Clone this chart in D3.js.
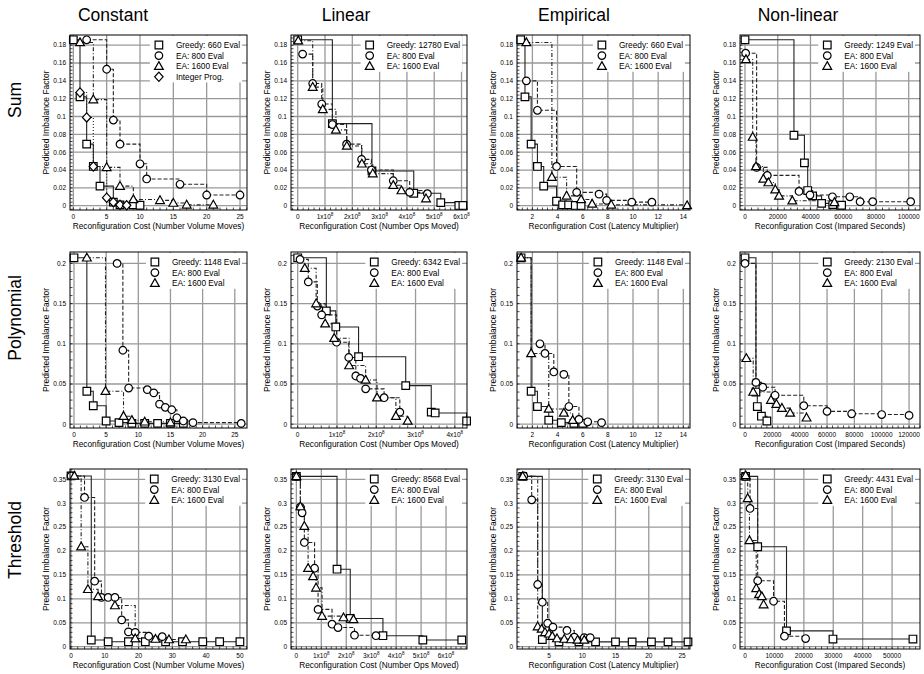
<!DOCTYPE html>
<html>
<head>
<meta charset="utf-8">
<script src="https://cdn.jsdelivr.net/npm/d3@7"></script>
<style>
  body { margin: 0; background: #fff; }
  svg { display: block; font-family: "Liberation Sans", Arial, sans-serif; }
</style>
</head>
<body>
<svg id="chart" width="924" height="674"></svg>
<script>
// ---- Labels ----
const colTitles = ["Constant", "Linear", "Empirical", "Non-linear"];
const rowTitles = ["Sum", "Polynomial", "Threshold"];
const xTitles = [
  "Reconfiguration Cost (Number Volume Moves)",
  "Reconfiguration Cost (Number Ops Moved)",
  "Reconfiguration Cost (Latency Multiplier)",
  "Reconfiguration Cost (Impared Seconds)"
];
const yTitle = "Predicted Imbalance Factor";
const greedyEvals = [[660, 12780, 660, 1249], [1148, 6342, 1148, 2130], [3130, 8568, 3130, 4431]];

// ---- Ticks ----
const yTicksByRow = [
  [0, 0.02, 0.04, 0.06, 0.08, 0.1, 0.12, 0.14, 0.16, 0.18],
  [0, 0.05, 0.1, 0.15, 0.2],
  [0, 0.05, 0.1, 0.15, 0.2, 0.25, 0.3, 0.35]
];
const xTicks = [
  [[0, 5, 10, 15, 20, 25], [0, 1e8, 2e8, 3e8, 4e8, 5e8, 6e8], [2, 4, 6, 8, 10, 12, 14], [0, 20000, 40000, 60000, 80000, 100000]],
  [[0, 5, 10, 15, 20, 25], [0, 1e8, 2e8, 3e8, 4e8], [2, 4, 6, 8, 10, 12, 14], [0, 20000, 40000, 60000, 80000, 100000, 120000]],
  [[0, 10, 20, 30, 40, 50], [0, 1e8, 2e8, 3e8, 4e8, 5e8, 6e8], [5, 10, 15, 20, 25], [0, 10000, 20000, 30000, 40000, 50000]]
];

// ---- Data: Sum ----
const constSumGreedy = [[0,0.186],[1,0.122],[2,0.069],[3,0.044],[4,0.022],[6,0.004],[7,0.001],[9,0.001],[10,0.0005]];
const constSumEA800 = [[2,0.186],[5,0.153],[6,0.096],[7,0.069],[10,0.047],[11,0.030],[16,0.024],[20,0.012],[25,0.012]];
const constSumEA1600 = [[1,0.183],[3,0.119],[5,0.043],[7,0.022],[9,0.007],[13,0.006],[15,0.003],[17,0.001],[21,0.001]];
const constSumIP = [[1,0.127],[2,0.099],[3,0.044],[5,0.009],[6,0.004],[7,0.001],[8,0.0005]];

const linSumGreedy = [[0,0.186],[1.27e8,0.092],[2.72e8,0.039],[4.25e8,0.014],[5.24e8,0.0035],[5.9e8,0.0003],[6.05e8,0.0003]];
const linSumEA800 = [[0.18e8,0.170],[0.55e8,0.137],[0.88e8,0.114],[1.27e8,0.091],[1.79e8,0.069],[2.34e8,0.052],[2.7e8,0.040],[3.5e8,0.028],[4.1e8,0.015],[4.75e8,0.0135]];
const linSumEA1600 = [[0.02e8,0.185],[0.55e8,0.133],[0.92e8,0.108],[1.4e8,0.085],[1.8e8,0.067],[2.35e8,0.047],[2.75e8,0.036],[3.5e8,0.023],[3.8e8,0.017],[4.7e8,0.008]];

const empSumGreedy = [[1.07,0.186],[1.41,0.122],[1.9,0.069],[2.4,0.044],[2.9,0.022],[3.92,0.005],[4.4,0.001],[4.88,0.001],[5.41,0.0003],[5.87,0.0003]];
const empSumEA800 = [[1.52,0.140],[2.4,0.107],[3.92,0.044],[5.52,0.015],[7.3,0.013],[7.9,0.006],[9.9,0.004],[11.5,0.004]];
const empSumEA1600 = [[1.52,0.183],[3.55,0.032],[4.72,0.011],[5.87,0.007],[6.75,0.002],[8.27,0.001],[14.3,0.0003]];

const nlSumGreedy = [[0,0.186],[29900,0.079],[36300,0.048],[38300,0.017],[41300,0.011],[46800,0.0026],[53600,0.0012],[59000,0.0005]];
const nlSumEA800 = [[400,0.171],[7100,0.043],[13600,0.034],[33000,0.016],[39700,0.012],[53400,0.010],[64000,0.010],[70300,0.0045],[78000,0.0045],[101200,0.0045]];
const nlSumEA1600 = [[600,0.164],[4700,0.077],[6700,0.044],[11200,0.030],[14300,0.026],[18500,0.018],[20800,0.011],[28900,0.0056],[54600,0.0037]];

// ---- Data: Polynomial ----
const constPolyGreedy = [[0,0.207],[2,0.041],[3,0.023],[5,0.004],[7,0.002],[9,0.001],[11,0.001],[13,0.001],[15,0.001],[17,0.001]];
const constPolyEA800 = [[6.7,0.2],[7.6,0.092],[8.5,0.045],[11.4,0.043],[12.4,0.039],[13.3,0.025],[14.2,0.021],[15.2,0.018],[16,0.008],[17,0.004],[18.5,0.002],[26,0.001]];
const constPolyEA1600 = [[2,0.207],[4.9,0.041],[7.7,0.01],[9,0.005],[11,0.003],[15,0.002]];

const linPolyGreedy = [[0,0.207],[0.73e8,0.141],[0.97e8,0.121],[1.55e8,0.084],[2.75e8,0.048],[3.4e8,0.015],[3.5e8,0.014],[4.3e8,0.004]];
const linPolyEA800 = [[0.06e8,0.205],[0.27e8,0.177],[0.5e8,0.147],[0.61e8,0.136],[0.99e8,0.102],[1.3e8,0.083],[1.48e8,0.060],[1.6e8,0.057],[1.73e8,0.044],[2.2e8,0.033],[2.6e8,0.015]];
const linPolyEA1600 = [[0.18e8,0.194],[0.47e8,0.150],[0.7e8,0.125],[0.93e8,0.107],[1.31e8,0.073],[1.73e8,0.055],[2.02e8,0.033],[2.5e8,0.01],[2.8e8,0.004]];

const empPolyGreedy = [[1.1,0.207],[1.9,0.041],[2.4,0.022],[3.3,0.005],[4.3,0.002],[5.3,0.001],[6.0,0.001]];
const empPolyEA800 = [[2.6,0.1],[3.0,0.088],[3.7,0.065],[4.5,0.062],[4.9,0.022],[5.7,0.006],[6.4,0.003],[7.5,0.002]];
const empPolyEA1600 = [[1.1,0.207],[1.9,0.088],[3.3,0.019],[4.5,0.014],[5.2,0.005]];

const nlPolyGreedy = [[0,0.207],[8000,0.04],[9000,0.022],[12000,0.01],[16000,0.004]];
const nlPolyEA800 = [[0,0.2],[8000,0.052],[13000,0.046],[22000,0.036],[43000,0.023],[60000,0.016],[78000,0.013],[100000,0.012],[120000,0.011]];
const nlPolyEA1600 = [[1000,0.082],[6000,0.04],[19000,0.03],[23000,0.025],[27000,0.02],[33000,0.014],[45000,0.008]];

// ---- Data: Threshold ----
const constThrGreedy = [[0,0.357],[6,0.014],[11,0.0105],[17,0.0105],[22,0.0105],[28,0.0105],[33,0.0105],[39,0.0105],[44,0.0105],[50,0.0105]];
const constThrEA800 = [[0,0.357],[4,0.312],[7,0.137],[9,0.103],[11,0.103],[13,0.103],[15,0.056],[17,0.031],[19,0.030],[23,0.022],[27,0.021]];
const constThrEA1600 = [[1,0.357],[3,0.209],[5,0.12],[8,0.105],[13,0.086],[19,0.017],[25,0.016],[29,0.015],[34,0.015]];

const linThrGreedy = [[0,0.356],[1.63e8,0.162],[2.16e8,0.059],[3.47e8,0.023],[5.07e8,0.014],[6.63e8,0.014]];
const linThrEA800 = [[0,0.356],[0.16e8,0.292],[0.23e8,0.280],[0.32e8,0.218],[0.73e8,0.164],[0.87e8,0.078],[1.43e8,0.047],[1.67e8,0.040],[2.33e8,0.024],[3.19e8,0.023]];
const linThrEA1600 = [[0,0.356],[0.16e8,0.293],[0.32e8,0.252],[0.47e8,0.164],[0.67e8,0.147],[0.79e8,0.123],[1.03e8,0.064],[1.89e8,0.061],[2.29e8,0.057]];

const empThrGreedy = [[1.05,0.356],[4.0,0.015],[6.5,0.010],[9.5,0.010],[12,0.010],[15,0.010],[17.5,0.010],[20.4,0.010],[22.9,0.010],[25.9,0.010]];
const empThrEA800 = [[1.2,0.357],[2.4,0.307],[3.3,0.130],[4.0,0.093],[4.8,0.049],[5.6,0.041],[7.7,0.034],[8.8,0.020],[10.3,0.019],[11.2,0.019]];
const empThrEA1600 = [[1.05,0.356],[3.3,0.042],[3.9,0.037],[4.4,0.030],[5.0,0.027],[5.5,0.022],[6.2,0.017],[7.3,0.016],[8.3,0.015],[9.3,0.014],[10.3,0.014]];

const nlThrGreedy = [[200,0.356],[4300,0.209],[14100,0.033],[29900,0.016],[57100,0.016]];
const nlThrEA800 = [[0,0.356],[1700,0.289],[4300,0.138],[9700,0.095],[13400,0.022],[20600,0.017]];
const nlThrEA1600 = [[200,0.358],[900,0.31],[1500,0.222],[3800,0.122],[4800,0.11],[5700,0.105],[6300,0.088]];

const panelData = [
  [[constSumGreedy, constSumEA800, constSumEA1600, constSumIP], [linSumGreedy, linSumEA800, linSumEA1600],
   [empSumGreedy, empSumEA800, empSumEA1600], [nlSumGreedy, nlSumEA800, nlSumEA1600]],
  [[constPolyGreedy, constPolyEA800, constPolyEA1600], [linPolyGreedy, linPolyEA800, linPolyEA1600],
   [empPolyGreedy, empPolyEA800, empPolyEA1600], [nlPolyGreedy, nlPolyEA800, nlPolyEA1600]],
  [[constThrGreedy, constThrEA800, constThrEA1600], [linThrGreedy, linThrEA800, linThrEA1600],
   [empThrGreedy, empThrEA800, empThrEA1600], [nlThrGreedy, nlThrEA800, nlThrEA1600]]
];

// ---- Layout (frames in px, axis domains) ----
const frameX = [[70, 247], [291, 467], [517, 690], [740, 920]];
const frameY = [[35, 210], [252, 428], [469, 649]];
const yDomains = [[-0.0048, 0.1914], [-0.0047, 0.2142], [-0.0048, 0.3715]];
const xDomains = [
  [[-0.5, 26.05], [-0.245e8, 6.2e8], [0.776, 14.53], [-3054, 106900]],
  [[-0.62, 26.9], [-0.17e8, 4.31e8], [0.776, 14.53], [-3660, 128000]],
  [[-0.3, 52.1], [-0.215e8, 6.84e8], [0.19, 26.2], [-1717, 59500]]
];
const titleX = [113, 346, 574, 798];
const rowTitleY = [100, 318, 540];

// open marker shapes (gnuplot-like)
const markers = [
  "M-3.8,-3.8H3.8V3.8H-3.8Z",
  "M3.8,0A3.8,3.8 0 1,1 -3.8,0A3.8,3.8 0 1,1 3.8,0Z",
  "M0,-4.6L4.4,3.2L-4.4,3.2Z",
  "M0,-4.6L4.2,0L0,4.6L-4.2,0Z"
];
const dashes = [null, "4,2", "4,2,1,2", "1,2"];
const lineColor = "#222";
const gridColor = "#9a9a9a";

const svg = d3.select("#chart");

svg.selectAll("text.col-title").data(colTitles).join("text")
  .attr("class", "col-title")
  .attr("x", (d, i) => titleX[i]).attr("y", 21)
  .attr("text-anchor", "middle")
  .style("font-size", "17.5px")
  .text(d => d);

svg.selectAll("text.row-title").data(rowTitles).join("text")
  .attr("class", "row-title")
  .attr("transform", (d, i) => `translate(21,${rowTitleY[i]}) rotate(-90)`)
  .attr("text-anchor", "middle")
  .style("font-size", "17.5px")
  .text(d => d);

function fmtY(v) { return String(+v.toFixed(3)); }

function xTickText(sel, v, col) {
  if (col === 1 && v !== 0) {
    sel.text(`${v / 1e8}x10`);
    sel.append("tspan").attr("dy", -3).style("font-size", "4.5px").text("8");
  } else {
    sel.text(String(v));
  }
}

for (let r = 0; r < 3; r++) {
  for (let c = 0; c < 4; c++) {
    const [fx0, fx1] = frameX[c];
    const [fy0, fy1] = frameY[r];
    const x = d3.scaleLinear().domain(xDomains[r][c]).range([fx0, fx1]);
    const y = d3.scaleLinear().domain(yDomains[r]).range([fy1, fy0]);
    const g = svg.append("g");
    const xt = xTicks[r][c];
    const yt = yTicksByRow[r];

    // grid
    g.selectAll("line.gx").data(xt).join("line")
      .attr("x1", d => x(d)).attr("x2", d => x(d))
      .attr("y1", fy0).attr("y2", fy1)
      .attr("stroke", gridColor).attr("stroke-width", 1.3);
    g.selectAll("line.gy").data(yt).join("line")
      .attr("x1", fx0).attr("x2", fx1)
      .attr("y1", d => y(d)).attr("y2", d => y(d))
      .attr("stroke", gridColor).attr("stroke-width", 1.3);

    // minor ticks
    const xStep = xt[1] - xt[0], yStep = yt[1] - yt[0];
    const xMinor = d3.range(xt[0] - xStep, xt[xt.length - 1] + xStep, xStep / 5)
      .filter(v => v >= xDomains[r][c][0] && v <= xDomains[r][c][1]);
    const yMinor = d3.range(yt[0] - yStep, yt[yt.length - 1] + yStep, yStep / 5)
      .filter(v => v >= yDomains[r][0] && v <= yDomains[r][1]);
    g.selectAll("line.mx").data(xMinor).join("line")
      .attr("x1", d => x(d)).attr("x2", d => x(d))
      .attr("y1", fy1).attr("y2", fy1 - 2.5)
      .attr("stroke", "#000").attr("stroke-width", 0.7);
    g.selectAll("line.my").data(yMinor).join("line")
      .attr("x1", fx0).attr("x2", fx0 + 2.5)
      .attr("y1", d => y(d)).attr("y2", d => y(d))
      .attr("stroke", "#000").attr("stroke-width", 0.7);

    // tick labels
    g.selectAll("text.yl").data(yt).join("text")
      .attr("x", fx0 - 4).attr("y", d => y(d) + 2.3)
      .attr("text-anchor", "end")
      .style("font-size", "6.5px")
      .text(fmtY);
    g.selectAll("text.xl").data(xt).join("text")
      .attr("x", d => x(d)).attr("y", fy1 + 9)
      .attr("text-anchor", "middle")
      .style("font-size", "6.5px")
      .each(function(d) { xTickText(d3.select(this), d, c); });

    // axis titles
    g.append("text")
      .attr("x", (fx0 + fx1) / 2).attr("y", fy1 + 19)
      .attr("text-anchor", "middle")
      .style("font-size", "8.3px")
      .text(xTitles[c]);
    g.append("text")
      .attr("transform", `translate(${fx0 - 21},${(fy0 + fy1) / 2}) rotate(-90)`)
      .attr("text-anchor", "middle")
      .style("font-size", "8.5px")
      .text(yTitle);

    // series
    const series = panelData[r][c];
    const line = d3.line().x(d => x(d[0])).y(d => y(d[1])).curve(d3.curveStepAfter);
    series.forEach((pts, i) => {
      g.append("path")
        .attr("d", line(pts))
        .attr("fill", "none")
        .attr("stroke", lineColor)
        .attr("stroke-width", 1.1)
        .attr("stroke-dasharray", dashes[i]);
    });
    series.forEach((pts, i) => {
      g.selectAll(null).data(pts).join("path")
        .attr("transform", d => `translate(${x(d[0])},${y(d[1])})`)
        .attr("d", markers[i])
        .attr("fill", "#fff")
        .attr("stroke", "#000")
        .attr("stroke-width", 1.2);
    });

    // legend
    const names = [`Greedy: ${greedyEvals[r][c]} Eval`,
      (r === 0 && c === 3) ? "EA: 800 EVal" : "EA: 800 Eval",
      "EA: 1600 Eval", "Integer Prog."].slice(0, series.length);
    const lg = g.append("g");
    const box = lg.append("rect").attr("fill", "#fff");
    const texts = lg.selectAll("text").data(names).join("text")
      .attr("y", (d, i) => fy0 + 13 + i * 10.6)
      .style("font-size", "8.3px")
      .text(d => d);
    const maxW = d3.max(texts.nodes(), n => n.getComputedTextLength());
    const tx = fx1 - 7 - maxW;
    texts.attr("x", tx);
    lg.selectAll("path").data(names).join("path")
      .attr("transform", (d, i) => `translate(${tx - 17},${fy0 + 10 + i * 10.6})`)
      .attr("d", (d, i) => markers[i])
      .attr("fill", "#fff").attr("stroke", "#000").attr("stroke-width", 1.2);
    box.attr("x", tx - 26).attr("y", fy0 + 1)
      .attr("width", maxW + 28).attr("height", names.length * 10.6 + 4);

    // frame
    g.append("rect")
      .attr("x", fx0).attr("y", fy0)
      .attr("width", fx1 - fx0).attr("height", fy1 - fy0)
      .attr("fill", "none").attr("stroke", "#000").attr("stroke-width", 1);
  }
}
</script>
</body>
</html>
